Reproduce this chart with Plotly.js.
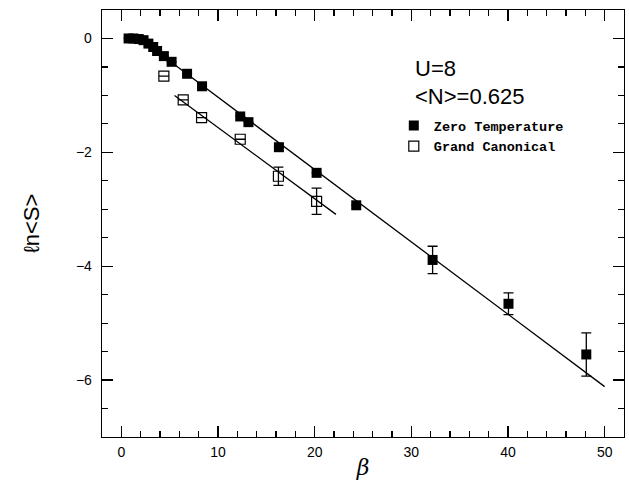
<!DOCTYPE html>
<html>
<head>
<meta charset="utf-8">
<script src="https://cdn.plot.ly/plotly-3.0.1.min.js"></script>
<style>html,body{margin:0;padding:0;background:#fff;}#chart{width:629px;height:489px;}</style>
</head>
<body>
<div id="chart"></div>
<script>
// Zero Temperature (filled squares)
const zeroBeta = [0.75, 1.25, 1.8, 2.3, 2.8, 3.3, 3.7, 4.4, 5.2, 6.8, 8.35, 12.3, 13.15, 16.3, 20.2, 24.3, 32.2, 40.05, 48.1];
const zeroLnS  = [0.0, 0.0, -0.01, -0.03, -0.09, -0.15, -0.22, -0.31, -0.41, -0.62, -0.84, -1.37, -1.47, -1.91, -2.36, -2.93, -3.89, -4.66, -5.55];
const zeroErr  = [0, 0, 0, 0, 0, 0, 0, 0, 0, 0, 0, 0, 0, 0, 0, 0, 0.24, 0.19, 0.38];

// Grand Canonical (open squares)
const gcBeta = [4.4, 6.4, 8.3, 12.3, 16.25, 20.2];
const gcLnS  = [-0.66, -1.08, -1.39, -1.77, -2.42, -2.86];
const gcErr  = [0, 0, 0, 0, 0.16, 0.23];

// Fitted lines
const zeroFitBeta = [4.0, 50.0];
const zeroFitLnS  = [-0.27, -6.115];
const gcFitBeta   = [5.5, 22.2];
const gcFitLnS    = [-1.0, -3.09];

// Labels
const textU = "U=8";
const textN = "&lt;N&gt;=0.625";
const xTitle = "<i>β</i>";
const yTitle = "ℓn&lt;S&gt;";

const traces = [
  {x: zeroFitBeta, y: zeroFitLnS, mode: 'lines', line: {color: '#000', width: 1.3}, showlegend: false, hoverinfo: 'skip'},
  {x: gcFitBeta, y: gcFitLnS, mode: 'lines', line: {color: '#000', width: 1.3}, showlegend: false, hoverinfo: 'skip'},
  {x: zeroBeta, y: zeroLnS, mode: 'markers', name: 'Zero Temperature',
   marker: {symbol: 'square', size: 10, color: '#000'},
   error_y: {type: 'data', array: zeroErr, visible: true, color: '#000', thickness: 1.3, width: 5}},
  {x: gcBeta, y: gcLnS, mode: 'markers', name: 'Grand Canonical',
   marker: {symbol: 'square-open', size: 10, color: '#000', line: {width: 1.2, color: '#000'}},
   error_y: {type: 'data', array: gcErr, visible: true, color: '#000', thickness: 1.3, width: 5}}
];

const axisCommon = {
  showgrid: false, zeroline: false, showline: true, linecolor: '#000', linewidth: 1.3,
  mirror: 'ticks', ticks: 'inside', ticklen: 11, tickwidth: 1.3, tickcolor: '#000',
  tickfont: {family: 'Liberation Sans, Arial, sans-serif', size: 14, color: '#000'}
};

const layout = {
  width: 629, height: 489,
  margin: {l: 102, r: 5, t: 10, b: 52},
  paper_bgcolor: '#fff', plot_bgcolor: '#fff',
  xaxis: Object.assign({}, axisCommon, {
    range: [-2, 52], tick0: 0, dtick: 10, ticklabelstandoff: 2,
    minor: {dtick: 2, ticks: 'inside', ticklen: 6, tickwidth: 1.2, tickcolor: '#000'},
    title: {text: xTitle, font: {family: 'DejaVu Serif, serif', size: 22, color: '#000'}, standoff: 0}
  }),
  yaxis: Object.assign({}, axisCommon, {
    range: [-7, 0.5], tick0: 0, dtick: 2, ticklabelstandoff: 6,
    minor: {dtick: 0.5, ticks: 'inside', ticklen: 6, tickwidth: 1.2, tickcolor: '#000'},
    title: {text: yTitle, font: {family: 'Liberation Sans, Arial, sans-serif', size: 22, color: '#000'}, standoff: 30}
  }),
  showlegend: true,
  legend: {
    x: 0.559, y: 0.765, xanchor: 'left', yanchor: 'top',
    bgcolor: 'rgba(0,0,0,0)', borderwidth: 0,
    font: {family: 'Liberation Mono, DejaVu Sans Mono, monospace', size: 13.5, color: '#000', weight: 'bold'},
    itemwidth: 30, tracegroupgap: 0
  },
  annotations: [
    {x: 30.2, y: -0.52, xref: 'x', yref: 'y', text: textU, showarrow: false, xanchor: 'left', yanchor: 'middle',
     font: {family: 'Liberation Sans, Arial, sans-serif', size: 22, color: '#000'}},
    {x: 30.2, y: -1.02, xref: 'x', yref: 'y', text: textN, showarrow: false, xanchor: 'left', yanchor: 'middle',
     font: {family: 'Liberation Sans, Arial, sans-serif', size: 22, color: '#000'}}
  ]
};

Plotly.newPlot('chart', traces, layout, {displayModeBar: false, staticPlot: true});
</script>
</body>
</html>
